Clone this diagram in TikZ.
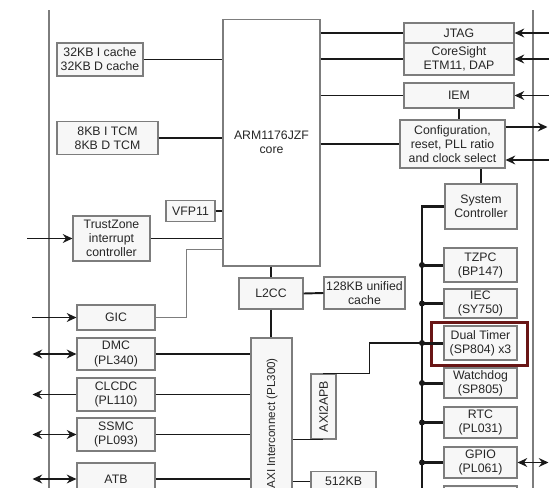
\documentclass[tikz,border=0pt]{standalone}
\usepackage{fontspec}
\setmainfont{Liberation Sans}
\usetikzlibrary{arrows.meta}
\definecolor{boxgray}{RGB}{125,125,125}
\definecolor{boxfill}{RGB}{247,247,247}
\definecolor{wirebk}{RGB}{25,25,25}
\definecolor{timerred}{RGB}{105,22,22}

\begin{document}
\begin{tikzpicture}[x=0.02cm,y=-0.02cm,>={Stealth[length=5.5pt,width=5pt]},
  blk/.style={draw=boxgray,fill=boxfill,line width=.6pt,align=center,inner sep=1pt,
    font=\fontsize{7}{8}\selectfont,text=black!85},
  sz/.style 2 args={minimum width=#1*0.2mm,minimum height=#2*0.2mm},
  wire/.style={wirebk,line width=1.1pt},
  thinwire/.style={boxgray,line width=.8pt},
  bus/.style={wirebk,line width=1.7pt},
  frame/.style={boxgray,line width=.9pt},
  hilite/.style={draw=timerred,line width=1.8pt}]
 \useasboundingbox (0,0) rectangle (549,488);
 \clip (0,0) rectangle (549,488);
 % outer bars
 \draw[frame] (49,10) -- (49,500);
 \draw[frame] (533,10) -- (533,500);
 % processor and its local blocks
 \node[blk,fill=white,sz={97}{247}] (core) at (271.5,142.5) {ARM1176JZF\\core};
 \node[blk,sz={86}{33}] (cache32) at (100,59.5) {32KB I cache\\32KB D cache};
 \node[blk,sz={101}{33}] (tcm) at (107.5,138) {8KB I TCM\\8KB D TCM};
 \node[blk,sz={49}{21}] (vfp) at (190.5,211) {VFP11};
 \node[blk,sz={77}{45}] (tz) at (111.5,238.5) {TrustZone\\interrupt\\controller};
 % memory side
 \node[blk,sz={78}{25}] (gic) at (116,317.5) {GIC};
 \node[blk,sz={78}{32}] (dmc) at (116,354) {DMC\\(PL340)};
 \node[blk,sz={78}{33}] (clcdc) at (116,394.5) {CLCDC\\(PL110)};
 \node[blk,sz={78}{33}] (ssmc) at (116,434.5) {SSMC\\(PL093)};
 \node[blk,sz={78}{32}] (atb) at (116,479) {ATB};
 \node[blk,sz={64}{31}] (l2cc) at (271,293.5) {L2CC};
 \node[blk,sz={81}{32}] (ucache) at (364.5,293) {128KB unified\\cache};
 \node[blk,sz={41}{170}] (axi) at (271.5,423) {};
 \node[rotate=90,anchor=east,font=\fontsize{6.6}{8}\selectfont,text=black!85]
  (axilbl) at (272,352) {AXI Interconnect (PL300)};
 \node[blk,rotate=90,sz={65}{25}] (apb) at (323.5,406.5) {AXI2APB};
 \node[blk,sz={65}{20},anchor=north] (sram) at (343.5,471) {512KB};
 % debug and control
 \node[blk,sz={110}{20}] (jtag) at (459,33) {JTAG};
 \node[blk,sz={110}{32}] (coresight) at (459,59) {CoreSight\\ETM11, DAP};
 \node[blk,sz={110}{25}] (iem) at (459,95.5) {IEM};
 \node[blk,sz={105}{48}] (config) at (452.5,144)
  {Configuration,\\reset, PLL ratio\\and clock select};
 \node[blk,sz={72}{45}] (sysctl) at (481,206.5) {System\\Controller};
 % APB peripherals
 \node[blk,sz={73}{34}] (tzpc) at (480.5,265) {TZPC\\(BP147)};
 \node[blk,sz={73}{29}] (iec) at (480.5,303.5) {IEC\\(SY750)};
 \node[blk,sz={73}{34}] (timer) at (480.5,343) {Dual Timer\\(SP804) x3};
 \node[blk,sz={73}{30}] (wdog) at (480.5,383) {Watchdog\\(SP805)};
 \node[blk,sz={73}{31}] (rtc) at (480.5,422.5) {RTC\\(PL031)};
 \node[blk,sz={73}{31}] (gpio) at (480.5,462.5) {GPIO\\(PL061)};
 \node[blk,sz={73}{34}] (nextper) at (480.5,503) {};
 \draw[hilite] ([shift={(-12,-3)}]timer.north west) rectangle ([shift={(10,5)}]timer.south east);
 % connections to the core
 \foreach \b in {cache32,tcm,vfp,tz}
  \draw[wire] (\b.east) -- (\b.east -| core.west);
 \foreach \b in {jtag,coresight,iem,config}
  \draw[wire] (\b.west -| core.east) -- (\b.west);
 \draw[thinwire] (gic.east) -- ++(31,0) |- ([yshift=3.4mm]core.south west);
 \draw[bus] (core.south -| l2cc.north) -- (l2cc.north);
 \draw[bus] (l2cc.south) -- (l2cc.south |- axi.north);
 \draw[wire] (l2cc.east) -- (ucache.west);
 \draw[wire] (iem.south) -- (iem.south |- config.north);
 \draw[wire] (sysctl.north) -- (sysctl.north |- config.south);
 % interconnect
 \foreach \b in {dmc,clcdc,ssmc,atb}
  \draw[wire] (\b.east) -- (\b.east -| axi.west);
 \draw[wire] (apb.west -| axi.east) -- (apb.west);
 \draw[wire] (sram.west -| axi.east) -- (sram.west);
 % APB bus
 \coordinate (bustop) at (422,206.5);
 \coordinate (busend) at (422,500);
 \draw[bus] (sysctl.west) -- (bustop) -- (busend);
 \draw[wire] (apb.east) -- ++(46,0) |- (bustop |- timer.west);
 \foreach \p in {tzpc,iec,timer,wdog,rtc,gpio}{
  \draw[bus] (bustop |- \p.west) -- (\p.west);
  \fill[wirebk] (bustop |- \p.west) circle (1.7pt);}
 % external signals
 \draw[wire,<-] (tz.west) -- +(-45,0);
 \draw[wire,<-] (gic.west) -- +(-44,0);
 \draw[wire,<->] (dmc.west) -- +(-44,0);
 \draw[wire,->] (clcdc.west) -- +(-44,0);
 \draw[wire,<->] (ssmc.west) -- +(-44,0);
 \draw[wire,<->] (atb.west) -- +(-44,0);
 \foreach \b in {jtag,coresight,iem}
  \draw[wire,<-] (\b.east) -- +(36,0);
 \draw[wire,->] ([yshift=3.4mm]config.east) -- +(42,0);
 \draw[wire,<-] ([yshift=-3.2mm]config.east) -- +(44,0);
 \draw[wire,<->] (gpio.east) -- +(31,0);
\end{tikzpicture}
\end{document}
